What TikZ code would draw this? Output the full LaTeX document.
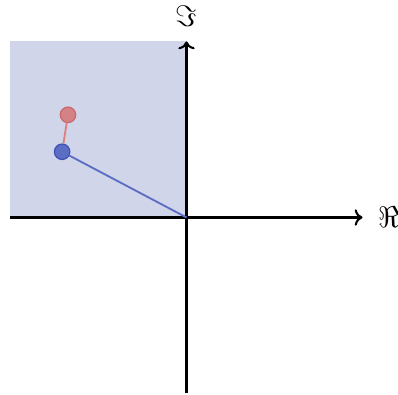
\documentclass[tikz,border=0pt]{standalone}
\usepackage{amsmath,amssymb}
\usepackage{tikz}
\usetikzlibrary{arrows.meta,positioning,calc}

\definecolor{quadfill}{RGB}{208,213,234}
\definecolor{bluept}{RGB}{92,110,196}
\definecolor{bluedk}{RGB}{62,82,182}
\definecolor{redpt}{RGB}{212,130,133}
\definecolor{reddk}{RGB}{204,104,108}
\definecolor{redln}{RGB}{222,128,128}

\begin{document}
\begin{tikzpicture}[
  axis/.style  ={->, line width=1pt, black},
  quad/.style  ={fill=quadfill, draw=none},
  bvec/.style  ={draw=bluept, line width=0.9pt},
  rvec/.style  ={draw=redln, line width=0.9pt},
  bdot/.style  ={circle, fill=bluept, draw=bluedk, line width=0.6pt,
                  inner sep=0pt, minimum size=7.5pt},
  rdot/.style  ={circle, fill=redpt, draw=reddk, line width=0.6pt,
                  inner sep=0pt, minimum size=7.5pt}
]
\useasboundingbox (-3.179,-3.009) rectangle (3.605,3.707);

%% ---- second quadrant -------------------------------------------------
\fill[quad] (-3,0) rectangle (0,3);

%% ---- axes --------------------------------------------------------------
\coordinate (o) at (0,0);
\coordinate (xl) at (-3,0);
\coordinate (yl) at (0,-3);
\node[inner sep=0pt] (xr) at (3,0) {};
\node[inner sep=0pt] (yu) at (0,3) {};
\draw[axis] (xl) -- (xr.center);
\draw[axis] (yl) -- (yu.center);
\node[right=0.12 of xr, font=\Large] (re) {$\Re$};
\node[above=0.1 of yu, font=\Large] (im) {$\Im$};

%% ---- points --------------------------------------------------------------
\node[bdot] (p1) at (-2.12,1.12) {};
\node[rdot] (p2) at (-2.02,1.75) {};
\draw[bvec] (o) -- (p1);
\draw[rvec] (p1) -- (p2);

\end{tikzpicture}
\end{document}
